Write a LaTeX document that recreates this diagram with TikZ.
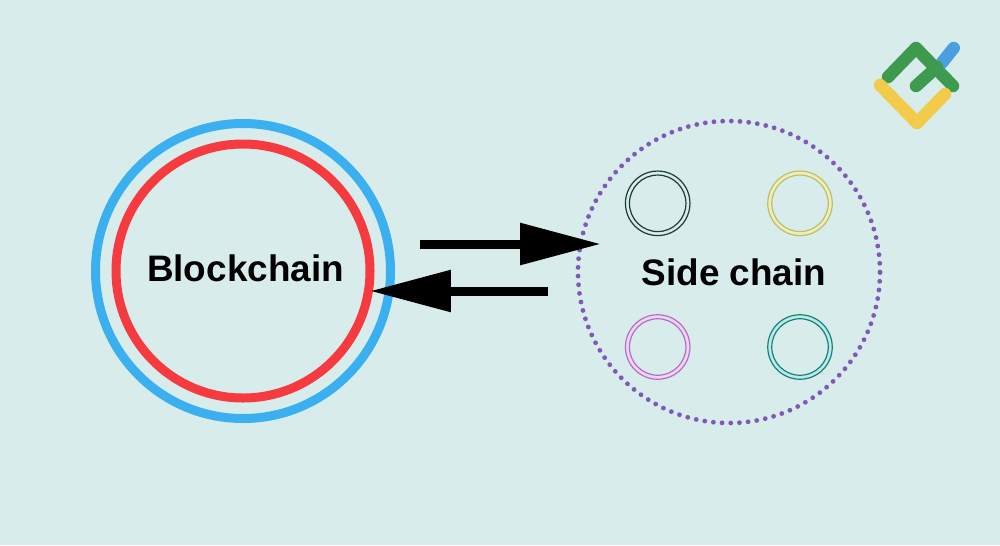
\documentclass[tikz,border=0pt]{standalone}
\usepackage{fontspec}
\setmainfont{Liberation Sans}
\usetikzlibrary{arrows.meta}
\definecolor{bgc}{HTML}{D8ECEB}
\definecolor{bluec}{HTML}{3BB0F0}
\definecolor{redc}{HTML}{F53B3F}
\definecolor{dotc}{HTML}{7F58B8}
\definecolor{logog}{HTML}{3E9A4E}
\definecolor{logoy}{HTML}{F3CB4B}
\definecolor{logob}{HTML}{4A9FE0}
\definecolor{ringk}{HTML}{1A3A38}
\definecolor{ringy}{HTML}{BEBE6E}
\definecolor{filly}{HTML}{EEEEB5}
\definecolor{ringp}{HTML}{B46EC8}
\definecolor{fillp}{HTML}{F0D5F0}
\definecolor{ringt}{HTML}{14827D}
\definecolor{fillt}{HTML}{BCEAE4}
\newlength{\pxu}\setlength{\pxu}{0.02cm}
\tikzset{
  x=0.02cm,y=-0.02cm,
  ring/.style={circle,draw=#1,line width=9\pxu,inner sep=0pt},
  smallout/.style={circle,draw=#1,line width=1.2\pxu,inner sep=0pt,minimum size=64.5\pxu},
  smallin/.style={circle,draw=#1,fill=bgc,line width=1.2\pxu,inner sep=0pt,minimum size=56.5\pxu},
  label text/.style={font=\fontsize{21pt}{26pt}\selectfont\bfseries,text=black,inner sep=0pt},
  bigarrow/.style={draw=black,line width=9\pxu,-{Triangle[length=1.62cm,width=0.8cm,fill=black]}},
  logostroke/.style={draw=#1,line width=12.5\pxu,line cap=round,line join=round},
}
\begin{document}
\begin{tikzpicture}
\useasboundingbox (0,0) rectangle (1000,545);
\fill[bgc] (0,0) rectangle (1000,545);
% main rings
\node[ring=bluec,minimum size=295\pxu] (chainouter) at (243,271) {};
\node[ring=redc,minimum size=254\pxu] (chaininner) at (243,271) {};
\node[label text] (chainlabel) at (245.5,268) {Blockchain};
% dotted side chain
\node[circle,draw=dotc,line width=4.8\pxu,line cap=round,dash pattern=on 0pt off 8.7\pxu,inner sep=0pt,minimum size=302\pxu] (side) at (729,272) {};
\node[label text] (sidelabel) at (734,272) {Side chain};
% small rings
\node[smallout=ringk] (a1) at (657.7,203.3) {};
\node[smallin=ringk] (a2) at (657.7,203.3) {};
\node[smallout=ringy,fill=filly] (b1) at (800,203.3) {};
\node[smallin=ringy] (b2) at (800,203.3) {};
\node[smallout=ringp,fill=fillp] (c1) at (657.7,347) {};
\node[smallin=ringp] (c2) at (657.7,347) {};
\node[smallout=ringt,fill=fillt] (d1) at (800,347) {};
\node[smallin=ringt] (d2) at (800,347) {};
% arrows
\coordinate (t1) at (420,244);
\coordinate (t2) at (601,244);
\coordinate (u1) at (548,291);
\coordinate (u2) at (370,291);
\draw[bigarrow] (t1) -- (t2);
\draw[bigarrow] (u1) -- (u2);
% logo
\draw[logostroke=logob] (941.7,63) -- (953.7,48);
\draw[logostroke=logog] (888,77) -- (916,48) -- (953,86);
\draw[logostroke=logog] (916,86) -- (937,67);
\draw[logostroke=logoy] (880,85) -- (917,123) -- (945,94);
\end{tikzpicture}
\end{document}
